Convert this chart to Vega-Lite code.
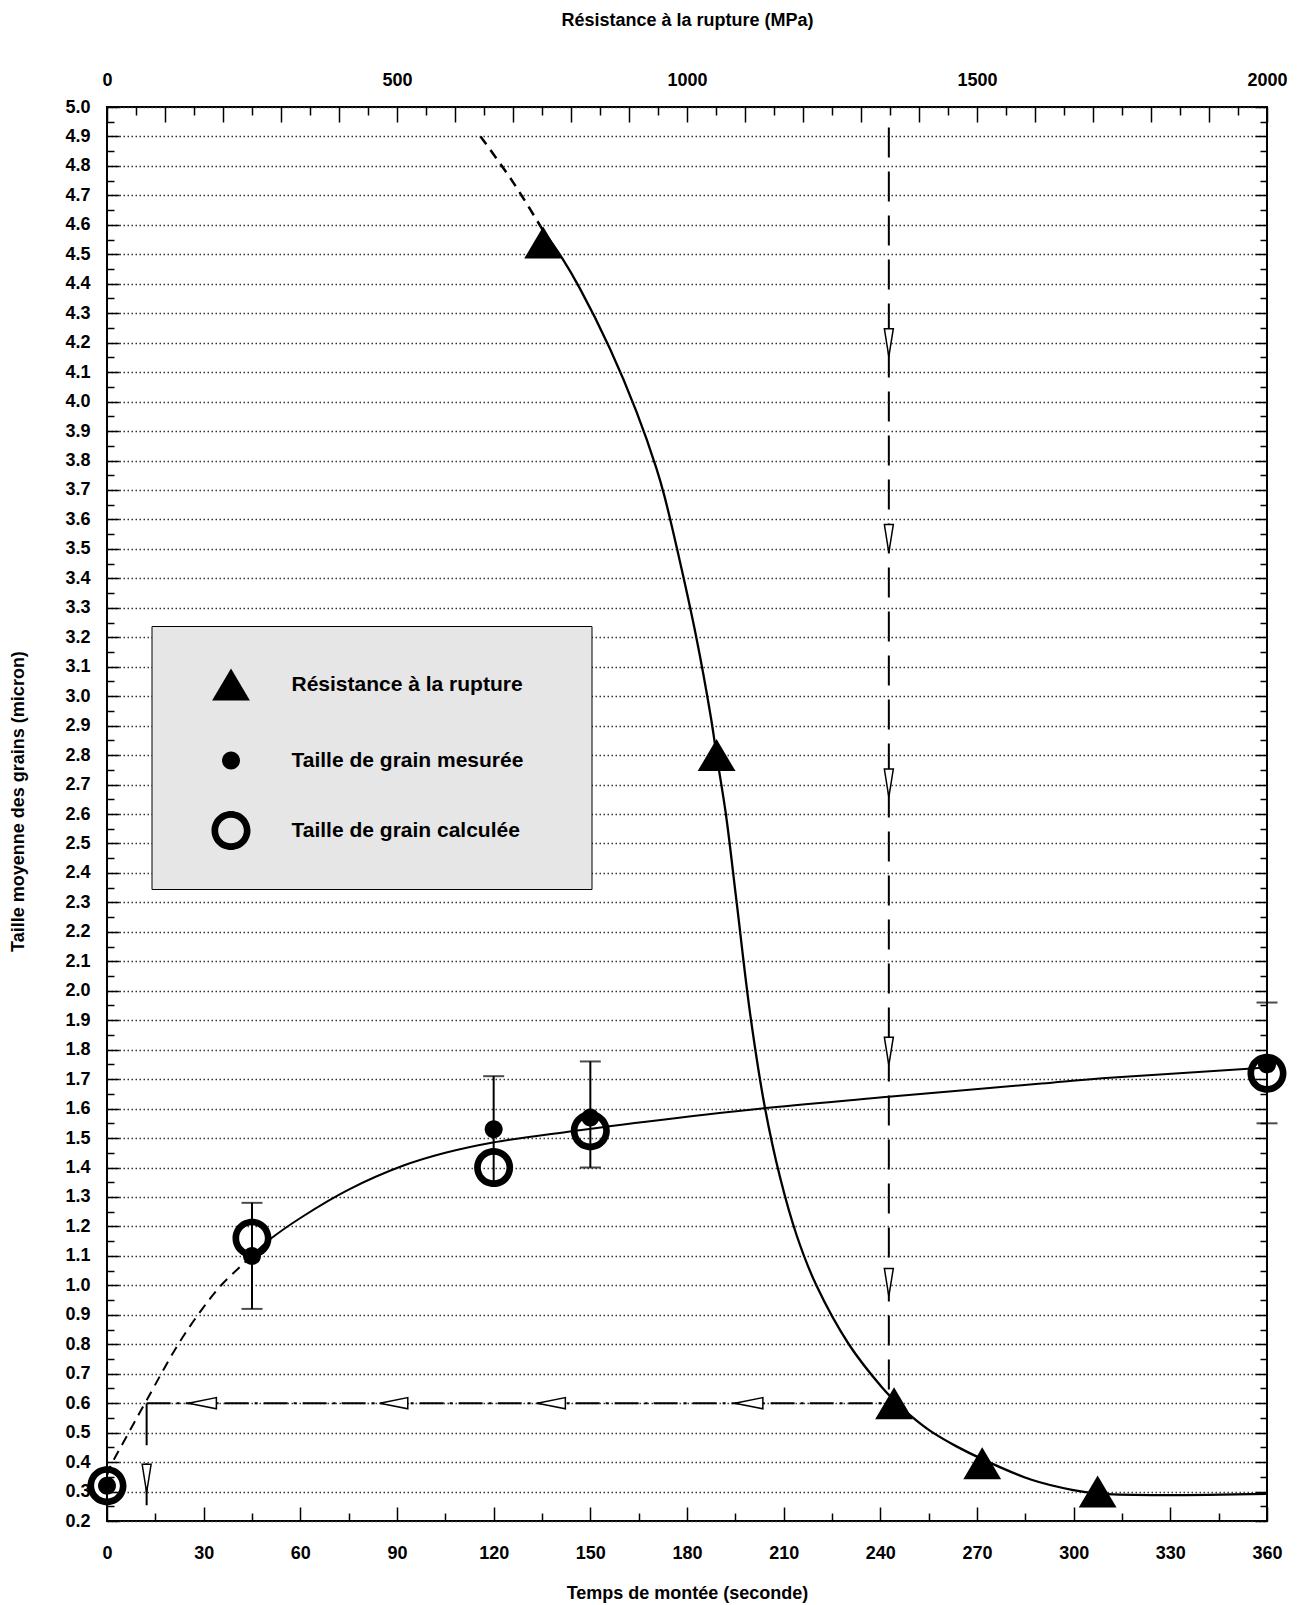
{
  "$schema": "https://vega.github.io/schema/vega-lite/v6.json",
  "autosize": {"type": "none"},
  "padding": {"left": 107, "top": 107, "right": 40, "bottom": 84},
  "width": 1160,
  "height": 1414,
  "background": "white",
  "config": {
    "font": "Liberation Sans",
    "view": {"stroke": "black", "strokeWidth": 2},
    "axis": {
      "labelFont": "Liberation Sans", "labelFontSize": 18, "labelFontWeight": "bold", "labelColor": "black",
      "titleFont": "Liberation Sans", "titleFontSize": 18, "titleFontWeight": "bold", "titleColor": "black",
      "tickColor": "black", "tickWidth": 1.5, "domain": false, "labelOverlap": false, "labelFlush": false, "labelBound": false
    },
    "legend": {
      "orient": "none", "legendX": 44.5, "legendY": 519, "padding": 39,
      "fillColor": "#e6e6e6", "strokeColor": "black",
      "symbolSize": 1521, "symbolOffset": 21, "labelOffset": 41, "rowPadding": 40,
      "labelFont": "Liberation Sans", "labelFontSize": 21, "labelFontWeight": "bold", "labelColor": "black",
      "labelLimit": 0, "symbolFillColor": "black", "symbolStrokeWidth": 0, "symbolOpacity": 1,
      "titleFont": "Liberation Sans", "titleFontSize": 21
    }
  },
  "datasets": {
    "grain_dash": [
      {"t": 0, "y": 0.355}, {"t": 1.2, "y": 0.388}, {"t": 6, "y": 0.485}, {"t": 12.3, "y": 0.61},
      {"t": 22.1, "y": 0.8}, {"t": 29.3, "y": 0.916}, {"t": 35, "y": 0.995}, {"t": 41.4, "y": 1.064}, {"t": 45, "y": 1.1}
    ],
    "grain_solid": [
      {"t": 45, "y": 1.1}, {"t": 50.7, "y": 1.157}, {"t": 60.5, "y": 1.232}, {"t": 75, "y": 1.325},
      {"t": 91.6, "y": 1.405}, {"t": 105, "y": 1.45}, {"t": 119.8, "y": 1.485}, {"t": 144.3, "y": 1.523},
      {"t": 165.9, "y": 1.554}, {"t": 205.3, "y": 1.603}, {"t": 242.5, "y": 1.64}, {"t": 290, "y": 1.685},
      {"t": 308.8, "y": 1.703}, {"t": 353, "y": 1.734}, {"t": 360, "y": 1.74}
    ],
    "guide_h": [{"t": 12.3, "t2": 244, "y": 0.6}],
    "guide_v": [{"t": 12.3, "y": 0.6, "y2": 0.2}],
    "arrows_left": [{"t": 29.6, "y": 0.6}, {"t": 89, "y": 0.6}, {"t": 137.9, "y": 0.6}, {"t": 199.2, "y": 0.6}],
    "arrow_down_t": [{"t": 12.3, "y": 0.345}],
    "grain_err": [
      {"t": 45, "y": 0.92, "y2": 1.28}, {"t": 120, "y": 1.35, "y2": 1.71},
      {"t": 150, "y": 1.4, "y2": 1.76}, {"t": 360, "y": 1.55, "y2": 1.96}
    ],
    "grain_calc": [
      {"t": 0, "y": 0.32}, {"t": 45, "y": 1.16}, {"t": 120, "y": 1.4}, {"t": 150, "y": 1.525}, {"t": 360, "y": 1.72}
    ],
    "grain_mes": [
      {"t": 0, "y": 0.32}, {"t": 45, "y": 1.1}, {"t": 120, "y": 1.53}, {"t": 150, "y": 1.57}, {"t": 360, "y": 1.75}
    ],
    "res_dash": [
      {"mpa": 644, "y": 4.9}, {"mpa": 700, "y": 4.745}, {"mpa": 752, "y": 4.58}
    ],
    "res_solid": [
      {"mpa": 752, "y": 4.58}, {"mpa": 785, "y": 4.486}, {"mpa": 815, "y": 4.385}, {"mpa": 867, "y": 4.18},
      {"mpa": 913, "y": 3.965}, {"mpa": 947, "y": 3.775}, {"mpa": 961, "y": 3.68}, {"mpa": 984, "y": 3.49},
      {"mpa": 1016, "y": 3.2}, {"mpa": 1041, "y": 2.93}, {"mpa": 1051, "y": 2.8}, {"mpa": 1067, "y": 2.6},
      {"mpa": 1085, "y": 2.31}, {"mpa": 1109, "y": 1.92}, {"mpa": 1134, "y": 1.607}, {"mpa": 1160, "y": 1.37},
      {"mpa": 1189, "y": 1.17}, {"mpa": 1223, "y": 1.0}, {"mpa": 1279, "y": 0.8}, {"mpa": 1336, "y": 0.654},
      {"mpa": 1357, "y": 0.61}, {"mpa": 1387, "y": 0.555}, {"mpa": 1420, "y": 0.505}, {"mpa": 1463, "y": 0.455},
      {"mpa": 1509, "y": 0.41}, {"mpa": 1594, "y": 0.34}, {"mpa": 1666, "y": 0.305}, {"mpa": 1710, "y": 0.293},
      {"mpa": 1811, "y": 0.288}, {"mpa": 2000, "y": 0.292}
    ],
    "res_pts": [
      {"mpa": 752, "y": 4.54}, {"mpa": 1051, "y": 2.8}, {"mpa": 1357, "y": 0.6}, {"mpa": 1509, "y": 0.396}, {"mpa": 1708, "y": 0.3}
    ],
    "guide_v_mpa": [{"mpa": 1348, "y": 4.93, "y2": 0.6}],
    "arrows_down": [
      {"mpa": 1348, "y": 4.2}, {"mpa": 1348, "y": 3.535}, {"mpa": 1348, "y": 2.705}, {"mpa": 1348, "y": 1.795}, {"mpa": 1348, "y": 1.01}
    ]
  },
  "layer": [
    {
      "encoding": {
        "x": {
          "field": "t", "type": "quantitative",
          "scale": {"domain": [0, 360], "nice": false, "zero": false},
          "axis": {
            "orient": "bottom", "title": "Temps de montée (seconde)", "format": "d",
            "values": [0, 15, 30, 45, 60, 75, 90, 105, 120, 135, 150, 165, 180, 195, 210, 225, 240, 255, 270, 285, 300, 315, 330, 345, 360],
            "grid": false,
            "tickSize": {"condition": {"test": "datum.value % 30 === 0", "value": -14}, "value": -8},
            "labelExpr": "datum.value % 30 === 0 ? datum.label : ''",
            "labelBaseline": "alphabetic", "labelPadding": 51,
            "titleBaseline": "alphabetic", "titleY": 77
          }
        },
        "y": {
          "field": "y", "type": "quantitative",
          "scale": {"domain": [0.2, 5], "nice": false, "zero": false},
          "axis": {
            "orient": "left", "title": "Taille moyenne des grains (micron)",
            "values": [0.2,0.25,0.3,0.35,0.4,0.45,0.5,0.55,0.6,0.65,0.7,0.75,0.8,0.85,0.9,0.95,1,1.05,1.1,1.15,1.2,1.25,1.3,1.35,1.4,1.45,1.5,1.55,1.6,1.65,1.7,1.75,1.8,1.85,1.9,1.95,2,2.05,2.1,2.15,2.2,2.25,2.3,2.35,2.4,2.45,2.5,2.55,2.6,2.65,2.7,2.75,2.8,2.85,2.9,2.95,3,3.05,3.1,3.15,3.2,3.25,3.3,3.35,3.4,3.45,3.5,3.55,3.6,3.65,3.7,3.75,3.8,3.85,3.9,3.95,4,4.05,4.1,4.15,4.2,4.25,4.3,4.35,4.4,4.45,4.5,4.55,4.6,4.65,4.7,4.75,4.8,4.85,4.9,4.95,5],
            "grid": true, "gridColor": "#333333", "gridDash": [1.5, 2.5], "gridWidth": 1.4,
            "gridOpacity": {"condition": {"test": "round(datum.value*100) % 10 === 0", "value": 1}, "value": 0},
            "tickSize": {"condition": {"test": "round(datum.value*100) % 10 === 0", "value": -12}, "value": -7},
            "labelExpr": "round(datum.value*100) % 10 === 0 ? format(datum.value, '.1f') : ''",
            "labelPadding": 29,
            "titleX": -80, "titleY": 694, "titleBaseline": "bottom", "titleAngle": 270
          }
        }
      },
      "layer": [
        {"data": {"name": "grain_dash"}, "mark": {"type": "line", "interpolate": "catmull-rom", "color": "black", "strokeWidth": 2, "strokeDash": [10, 7]}},
        {"data": {"name": "grain_solid"}, "mark": {"type": "line", "interpolate": "catmull-rom", "color": "black", "strokeWidth": 2}},
        {"data": {"name": "guide_h"}, "mark": {"type": "rule", "color": "black", "strokeWidth": 2, "strokeDash": [24, 6, 3, 6]}, "encoding": {"x2": {"field": "t2"}}},
        {"data": {"name": "guide_v"}, "mark": {"type": "rule", "color": "black", "strokeWidth": 2, "strokeDash": [42, 18]}, "encoding": {"y2": {"field": "y2"}}},
        {"data": {"name": "arrows_left"}, "mark": {"type": "point", "shape": "M-1,0L1,-0.4L1,0.4Z", "size": 784, "filled": true, "fill": "white", "stroke": "black", "strokeWidth": 1.5, "opacity": 1}},
        {"data": {"name": "arrow_down_t"}, "mark": {"type": "point", "shape": "M-0.32,-1L0.32,-1L0,1Z", "size": 784, "filled": true, "fill": "white", "stroke": "black", "strokeWidth": 1.5, "opacity": 1}},
        {"data": {"name": "grain_err"}, "mark": {"type": "errorbar", "ticks": {"thickness": 2, "color": "black"}, "rule": {"strokeWidth": 2, "color": "black"}, "size": 21, "color": "black"}, "encoding": {"y2": {"field": "y2"}}},
        {
          "data": {"name": "grain_calc"},
          "mark": {"type": "point", "filled": true, "fill": "black", "strokeWidth": 0, "opacity": 1, "size": 1521},
          "encoding": {"shape": {"datum": "Taille de grain calculée", "type": "nominal",
            "scale": {"domain": ["Résistance à la rupture", "Taille de grain mesurée", "Taille de grain calculée"],
              "range": ["M0,-0.82L0.97,0.82L-0.97,0.82Z",
                "M0.46,0C0.46,0.254 0.254,0.46 0,0.46C-0.254,0.46 -0.46,0.254 -0.46,0C-0.46,-0.254 -0.254,-0.46 0,-0.46C0.254,-0.46 0.46,-0.254 0.46,0Z",
                "M1,0C1,0.5523 0.5523,1 0,1C-0.5523,1 -1,0.5523 -1,0C-1,-0.5523 -0.5523,-1 0,-1C0.5523,-1 1,-0.5523 1,0ZM0.66,0C0.66,-0.3645 0.3645,-0.66 0,-0.66C-0.3645,-0.66 -0.66,-0.3645 -0.66,0C-0.66,0.3645 -0.3645,0.66 0,0.66C0.3645,0.66 0.66,0.3645 0.66,0Z"]},
            "legend": {"title": "\u00a0", "titleOrient": "right", "titlePadding": 29, "orient": "none", "legendX": 44.5, "legendY": 519,
              "encode": {"legend": {"update": {"strokeWidth": {"value": 2}}}}}}}
        },
        {
          "data": {"name": "grain_mes"},
          "mark": {"type": "point", "filled": true, "fill": "black", "strokeWidth": 0, "opacity": 1, "size": 1521},
          "encoding": {"shape": {"datum": "Taille de grain mesurée", "type": "nominal",
            "scale": {"domain": ["Résistance à la rupture", "Taille de grain mesurée", "Taille de grain calculée"],
              "range": ["M0,-0.82L0.97,0.82L-0.97,0.82Z",
                "M0.46,0C0.46,0.254 0.254,0.46 0,0.46C-0.254,0.46 -0.46,0.254 -0.46,0C-0.46,-0.254 -0.254,-0.46 0,-0.46C0.254,-0.46 0.46,-0.254 0.46,0Z",
                "M1,0C1,0.5523 0.5523,1 0,1C-0.5523,1 -1,0.5523 -1,0C-1,-0.5523 -0.5523,-1 0,-1C0.5523,-1 1,-0.5523 1,0ZM0.66,0C0.66,-0.3645 0.3645,-0.66 0,-0.66C-0.3645,-0.66 -0.66,-0.3645 -0.66,0C-0.66,0.3645 -0.3645,0.66 0,0.66C0.3645,0.66 0.66,0.3645 0.66,0Z"]},
            "legend": {"title": "\u00a0", "titleOrient": "right", "titlePadding": 29, "orient": "none", "legendX": 44.5, "legendY": 519,
              "encode": {"legend": {"update": {"strokeWidth": {"value": 2}}}}}}}
        }
      ]
    },
    {
      "encoding": {
        "x": {
          "field": "mpa", "type": "quantitative",
          "scale": {"domain": [0, 2000], "nice": false, "zero": false},
          "axis": {
            "orient": "top", "title": "Résistance à la rupture (MPa)", "format": "d",
            "values": [0,50,100,150,200,250,300,350,400,450,500,550,600,650,700,750,800,850,900,950,1000,1050,1100,1150,1200,1250,1300,1350,1400,1450,1500,1550,1600,1650,1700,1750,1800,1850,1900,1950,2000],
            "grid": false,
            "tickSize": {"condition": {"test": "datum.value % 100 === 0", "value": -15}, "value": -8},
            "labelExpr": "datum.value % 500 === 0 ? datum.label : ''",
            "labelBaseline": "alphabetic", "labelPadding": 37,
            "titleBaseline": "alphabetic", "titleY": -82
          }
        },
        "y": {
          "field": "y", "type": "quantitative",
          "scale": {"domain": [0.2, 5], "nice": false, "zero": false},
          "axis": {
            "orient": "right", "title": null, "labels": false, "grid": false,
            "values": [0.2,0.25,0.3,0.35,0.4,0.45,0.5,0.55,0.6,0.65,0.7,0.75,0.8,0.85,0.9,0.95,1,1.05,1.1,1.15,1.2,1.25,1.3,1.35,1.4,1.45,1.5,1.55,1.6,1.65,1.7,1.75,1.8,1.85,1.9,1.95,2,2.05,2.1,2.15,2.2,2.25,2.3,2.35,2.4,2.45,2.5,2.55,2.6,2.65,2.7,2.75,2.8,2.85,2.9,2.95,3,3.05,3.1,3.15,3.2,3.25,3.3,3.35,3.4,3.45,3.5,3.55,3.6,3.65,3.7,3.75,3.8,3.85,3.9,3.95,4,4.05,4.1,4.15,4.2,4.25,4.3,4.35,4.4,4.45,4.5,4.55,4.6,4.65,4.7,4.75,4.8,4.85,4.9,4.95,5],
            "tickSize": {"condition": {"test": "round(datum.value*100) % 10 === 0", "value": -12}, "value": -7}
          }
        }
      },
      "layer": [
        {"data": {"name": "res_dash"}, "mark": {"type": "line", "interpolate": "catmull-rom", "color": "black", "strokeWidth": 2.5, "strokeDash": [10, 7]}},
        {"data": {"name": "res_solid"}, "mark": {"type": "line", "interpolate": "catmull-rom", "color": "black", "strokeWidth": 2.3}},
        {"data": {"name": "guide_v_mpa"}, "mark": {"type": "rule", "color": "black", "strokeWidth": 2, "strokeDash": [30, 14]}, "encoding": {"y2": {"field": "y2"}}},
        {"data": {"name": "arrows_down"}, "mark": {"type": "point", "shape": "M-0.32,-1L0.32,-1L0,1Z", "size": 784, "filled": true, "fill": "white", "stroke": "black", "strokeWidth": 1.5, "opacity": 1}},
        {
          "data": {"name": "res_pts"},
          "mark": {"type": "point", "filled": true, "fill": "black", "strokeWidth": 0, "opacity": 1, "size": 1521},
          "encoding": {"shape": {"datum": "Résistance à la rupture", "type": "nominal",
            "scale": {"domain": ["Résistance à la rupture", "Taille de grain mesurée", "Taille de grain calculée"],
              "range": ["M0,-0.82L0.97,0.82L-0.97,0.82Z",
                "M0.46,0C0.46,0.254 0.254,0.46 0,0.46C-0.254,0.46 -0.46,0.254 -0.46,0C-0.46,-0.254 -0.254,-0.46 0,-0.46C0.254,-0.46 0.46,-0.254 0.46,0Z",
                "M1,0C1,0.5523 0.5523,1 0,1C-0.5523,1 -1,0.5523 -1,0C-1,-0.5523 -0.5523,-1 0,-1C0.5523,-1 1,-0.5523 1,0ZM0.66,0C0.66,-0.3645 0.3645,-0.66 0,-0.66C-0.3645,-0.66 -0.66,-0.3645 -0.66,0C-0.66,0.3645 -0.3645,0.66 0,0.66C0.3645,0.66 0.66,0.3645 0.66,0Z"]},
            "legend": {"title": "\u00a0", "titleOrient": "right", "titlePadding": 29, "orient": "none", "legendX": 44.5, "legendY": 519,
              "encode": {"legend": {"update": {"strokeWidth": {"value": 2}}}}}}}
        }
      ]
    }
  ],
  "resolve": {"scale": {"x": "independent", "y": "independent"}}
}
